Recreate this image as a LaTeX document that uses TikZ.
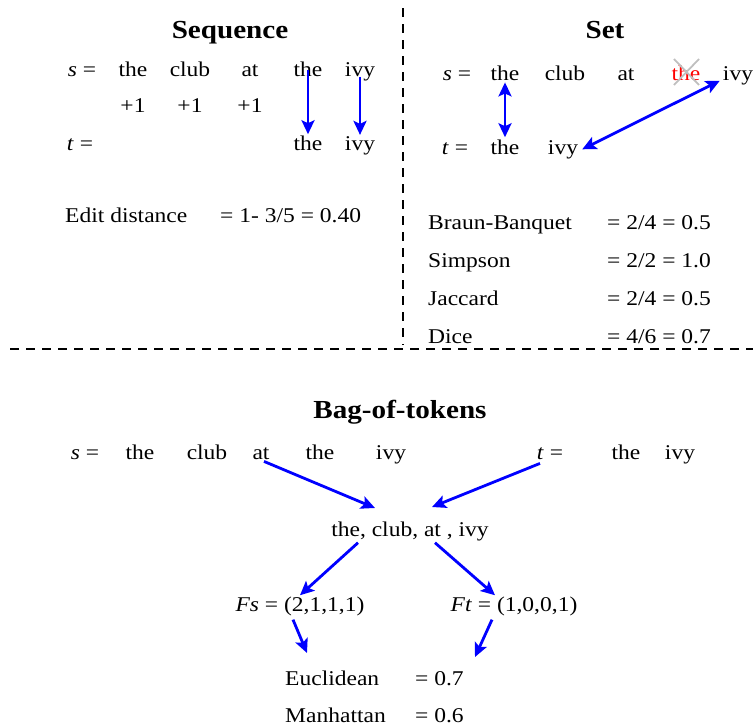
\documentclass[tikz,border=0pt]{standalone}
\usepackage{fontspec}
\setmainfont{Liberation Serif}[FakeStretch=1.12]
\usetikzlibrary{arrows.meta}
\begin{document}
\begin{tikzpicture}[x=1pt,y=-1pt,
  w/.style={font=\fontsize{21}{25}\selectfont, inner sep=0pt, anchor=base},
  wl/.style={w, anchor=base west},
  ttl/.style={font=\fontsize{26}{30}\selectfont\bfseries, inner sep=0pt, anchor=base},
  tip/.tip={Stealth[length=14pt,width=13pt,inset=3pt]},
  arr/.style={draw=blue, line width=2.8pt, -tip},
  darr/.style={draw=blue, line width=2.8pt, tip-tip},
  sepline/.style={line width=2.6pt, dash pattern=on 9pt off 7pt}]
\useasboundingbox (0,0) rectangle (753,726);
% separators
\draw[sepline] (403,8) -- (403,345);
\draw[sepline] (10,349) -- (753,349);
% ---- Sequence
\node[ttl] (seqt) at (230,38) {Sequence};
\node[w] (qs) at (82,76) {\textit{s} =};
\node[w] (qs1) at (133,76) {the};
\node[w] (qs2) at (190,76) {club};
\node[w] (qs3) at (250,76) {at};
\node[w] (qs4) at (308,76) {the};
\node[w] (qs5) at (360,76) {ivy};
\node[w] (qp1) at (133,112) {+1};
\node[w] (qp2) at (190,112) {+1};
\node[w] (qp3) at (250,112) {+1};
\node[w] (qt) at (80,150) {\textit{t} =};
\node[w] (qt4) at (308,150) {the};
\node[w] (qt5) at (360,150) {ivy};
\draw[arr] ([yshift=6pt]qs4.south) -- ([yshift=1pt]qt4.north);
\draw[arr] ([yshift=4pt]qs5.south) -- ([yshift=1pt]qt5.north);
\node[wl] (ed) at (65,222) {Edit distance};
\node[wl] (edv) at (220,222) {= 1- 3/5 = 0.40};
% ---- Set
\node[ttl] (sett) at (605,38) {Set};
\node[w] (ss) at (457,80) {\textit{s} =};
\node[w] (ss1) at (505,80) {the};
\node[w] (ss2) at (565,80) {club};
\node[w] (ss3) at (626,80) {at};
\node[w, text=red] (ss4) at (686,80) {the};
\node[w] (ss5) at (738,80) {ivy};
\draw[gray!50, line width=1.8pt] (674,59) -- (699,85) (699,59) -- (674,85);
\node[w] (st) at (455,154) {\textit{t} =};
\node[w] (st1) at (505,154) {the};
\node[w] (st2) at (563,154) {ivy};
\draw[darr] ([yshift=-2pt]ss1.south) -- ([yshift=2pt]st1.north);
\draw[darr] ([xshift=-3pt,yshift=4pt]ss5.south west) -- ([xshift=4pt]st2.east);
\node[wl] (bb) at (428,229) {Braun-Banquet};
\node[wl] (bbv) at (607,229) {= 2/4 = 0.5};
\node[wl] (sim) at (428,267) {Simpson};
\node[wl] (simv) at (607,267) {= 2/2 = 1.0};
\node[wl] (jac) at (428,305) {Jaccard};
\node[wl] (jacv) at (607,305) {= 2/4 = 0.5};
\node[wl] (dic) at (428,343) {Dice};
\node[wl] (dicv) at (607,343) {= 4/6 = 0.7};
% ---- Bag of tokens
\node[ttl] (bagt) at (400,418) {Bag-of-tokens};
\node[w] (bs) at (85,459) {\textit{s} =};
\node[w] (bs1) at (140,459) {the};
\node[w] (bs2) at (207,459) {club};
\node[w] (bs3) at (261,459) {at};
\node[w] (bs4) at (320,459) {the};
\node[w] (bs5) at (391,459) {ivy};
\node[w] (bt) at (550,459) {\textit{t} =};
\node[w] (bt1) at (626,459) {the};
\node[w] (bt2) at (680,459) {ivy};
\node[w] (bag) at (410,536) {the, club, at , ivy};
\coordinate (bagL) at (375,508);
\coordinate (bagR) at (432,507);
\draw[arr] ([xshift=3pt,yshift=-2pt]bs3.south) -- (bagL);
\draw[arr] ([xshift=-10pt,yshift=-4pt]bt.south) -- (bagR);
\node[w] (fs) at (300,611) {\textit{Fs} = (2,1,1,1)};
\node[w] (ft) at (514,611) {\textit{Ft} = (1,0,0,1)};
\draw[arr] ([xshift=-52pt,yshift=-2pt]bag.south) -- ([yshift=1pt]fs.north);
\draw[arr] ([xshift=25pt,yshift=-2pt]bag.south) -- ([xshift=-19pt,yshift=1pt]ft.north);
\coordinate (eL) at (307,653);
\coordinate (eR) at (475,657);
\draw[arr] ([xshift=-7pt,yshift=-4pt]fs.south) -- (eL);
\draw[arr] ([xshift=-22pt,yshift=-4pt]ft.south) -- (eR);
\node[wl] (euc) at (285,685) {Euclidean};
\node[wl] (eucv) at (415,685) {= 0.7};
\node[wl] (man) at (285,722) {Manhattan};
\node[wl] (manv) at (415,722) {= 0.6};
\end{tikzpicture}
\end{document}
